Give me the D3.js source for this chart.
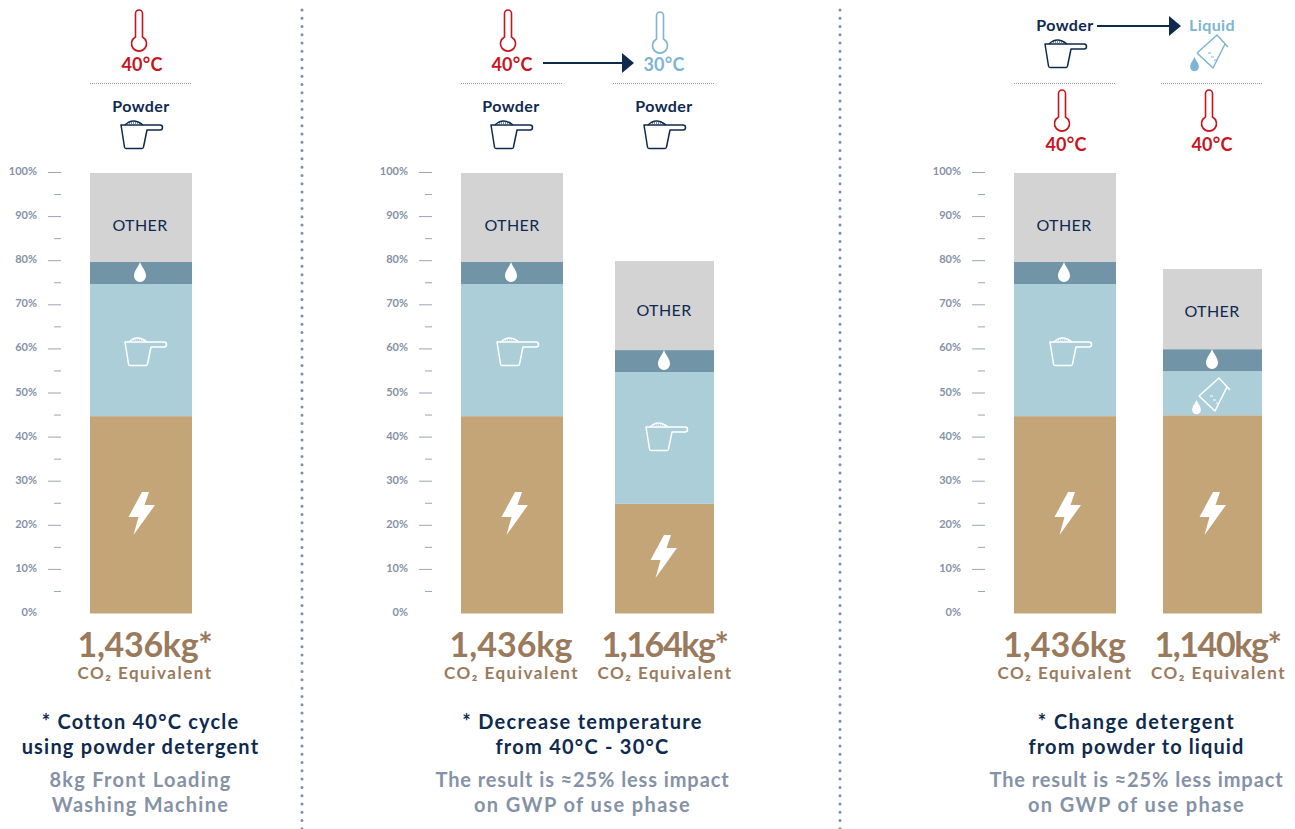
<!DOCTYPE html>
<html>
<head>
<meta charset="utf-8">
<script src="https://cdn.jsdelivr.net/npm/d3@7"></script>
<style>
  html, body { margin: 0; padding: 0; background: #fff; }
  svg { display: block; }
  text { font-family: Lato, sans-serif; }
</style>
</head>
<body>
<div id="chart-area"></div>
<script>
// Data (% of the 1,436kg baseline)
var segments = ["energy", "detergent", "water", "other"];
var barNames = ["p1", "p2a", "p2b", "p3a", "p3b"];
var energy    = [44.8, 44.8, 24.9, 44.8, 45];
var detergent = [30, 30, 29.9, 30, 10];
var water     = [5, 5, 5, 5, 5];
var other     = [20.2, 20.2, 20.2, 20.2, 18.2];
var totals = ["1,436kg*", "1,436kg", "1,164kg*", "1,436kg", "1,140kg*"];
var axisTicks = [0, 5, 10, 15, 20, 25, 30, 35, 40, 45, 50, 55, 60, 65, 70, 75, 80, 85, 90, 95, 100];

var colors = { energy: "#c4a577", detergent: "#abced9", water: "#7195a7", other: "#d3d3d3" };
var navy = "#0f2a4f", grey = "#8592a6", red = "#c8141e", blue = "#7db5d3", brown = "#9a7a5c";

var width = 1295, height = 829;

var svg = d3.select("#chart-area").append("svg")
  .attr("width", width)
  .attr("height", height);

// Y scales - the axis sits a little higher than the bars in the original
var y = d3.scaleLinear().domain([0, 100]).range([613.5, 173]);
var yAxisScale = d3.scaleLinear().domain([0, 100]).range([613, 172]);

// bar layout
var barX = { p1: 90, p2a: 461, p2b: 615, p3a: 1014, p3b: 1163 };
var barW = { p1: 102, p2a: 102, p2b: 99, p3a: 102, p3b: 99 };

var table = barNames.map(function(d, i) {
  return { bar: d, energy: energy[i], detergent: detergent[i], water: water[i], other: other[i] };
});
var stacked = d3.stack().keys(segments)(table);

svg.selectAll("g.layer")
  .data(stacked)
  .enter().append("g")
    .attr("class", "layer")
    .attr("fill", function(d) { return colors[d.key]; })
  .selectAll("rect")
  .data(function(d) { return d; })
  .enter().append("rect")
    .attr("x", function(d) { return barX[d.data.bar]; })
    .attr("width", function(d) { return barW[d.data.bar]; })
    .attr("y", function(d) { return y(d[1]); })
    .attr("height", function(d) { return y(d[0]) - y(d[1]); });

// Axes
[61, 432, 985].forEach(function(x) {
  var axisCall = d3.axisLeft(yAxisScale)
    .tickValues(axisTicks)
    .tickSize(0)
    .tickPadding(0)
    .tickFormat(function(d) { return d % 10 === 0 ? d + "%" : ""; });
  var g = svg.append("g")
    .attr("transform", "translate(" + x + ",0)")
    .call(axisCall);
  g.select(".domain").remove();
  g.selectAll(".tick line")
    .attr("x1", function(d) { return d === 0 ? 0 : (d % 10 === 0 ? -13 : -7); })
    .attr("x2", 0)
    .attr("stroke", "#9aa5b5")
    .attr("stroke-width", 1);
  g.selectAll(".tick text")
    .attr("x", -24)
    .attr("y", -1)
    .attr("fill", grey)
    .attr("font-size", "11px")
    .attr("font-weight", 700)
    .attr("font-family", "Lato, sans-serif");
});

// Icons, centred on 0,0
function thermometer(x, y0, color) {
  var g = svg.append("g").attr("transform", "translate(" + x + "," + y0 + ")");
  g.append("path")
    .attr("d", "M-3.5,27 V3.5 A3.5,3.5 0 0 1 3.5,3.5 V27 A7.5,7.5 0 1 1 -3.5,27 Z")
    .attr("fill", "none")
    .attr("stroke", color)
    .attr("stroke-width", 1.6);
}

function scoop(x, y0, color) {
  var g = svg.append("g").attr("transform", "translate(" + x + "," + y0 + ")")
    .attr("fill", "none").attr("stroke", color).attr("stroke-width", 1.5)
    .attr("stroke-linejoin", "round");
  g.append("path").attr("d", "M-20,-9 H19 A2.5,2.5 0 0 1 19,-4 H6 L2.5,13 Q2.3,14.5 1,14.5 H-15 Q-16.3,14.5 -16.5,13 L-20,-9 Z");
  g.append("path").attr("d", "M-16,-9 Q-8,-17 2,-9");
  g.append("path").attr("d", "M-12,-11 H-1").attr("stroke-dasharray", "1 1").attr("stroke-width", 1);
}

function drop(x, y0, color, s) {
  svg.append("path")
    .attr("transform", "translate(" + x + "," + y0 + ") scale(" + (s || 1) + ")")
    .attr("d", "M0,-10 C1.5,-5 6,-1.5 6,4 A6,6 0 0 1 -6,4 C-6,-1.5 -1.5,-5 0,-10 Z")
    .attr("fill", color);
}

function bolt(x, y0) {
  svg.append("path")
    .attr("transform", "translate(" + x + "," + y0 + ")")
    .attr("d", "M1,-21 L-12.5,4 H-2.5 L-7.5,22 L14,-8 H3.5 L8,-21 Z")
    .attr("fill", "#fff");
}

function beaker(x, y0, color) {
  var g = svg.append("g").attr("transform", "translate(" + x + "," + y0 + ")")
    .attr("fill", "none").attr("stroke", color).attr("stroke-width", 1.5)
    .attr("stroke-linejoin", "round");
  g.append("path").attr("d", "M-15,1 L5,-17 L16,-5 M13,-8 L1,16 L-15,1");
  g.append("path").attr("d", "M-4,1 h3 M-1,5 h3 M2,8 h3").attr("stroke-width", 1);
  drop(x - 17.5, y0 + 12, color, 0.72);
}

function label(x, yy, str, color, size, weight, spacing) {
  return svg.append("text")
    .attr("x", x)
    .attr("y", yy)
    .attr("text-anchor", "middle")
    .attr("fill", color)
    .attr("font-size", size + "px")
    .attr("font-weight", weight)
    .attr("letter-spacing", (spacing || 0) + "px")
    .text(str);
}

function dashRule(x1, x2) {
  svg.append("line")
    .attr("x1", x1).attr("x2", x2)
    .attr("y1", 83.5).attr("y2", 83.5)
    .attr("stroke", "#8f99a8")
    .attr("stroke-width", 1)
    .attr("stroke-dasharray", "1 1");
}

function arrow(x1, x2, yy) {
  svg.append("line")
    .attr("x1", x1).attr("x2", x2 - 10)
    .attr("y1", yy).attr("y2", yy)
    .attr("stroke", navy)
    .attr("stroke-width", 2.2);
  svg.append("path")
    .attr("d", "M" + (x2 - 12) + "," + (yy - 10) + " L" + x2 + "," + yy + " L" + (x2 - 12) + "," + (yy + 10) + " Z")
    .attr("fill", navy);
}

// Dotted separators
[302, 840].forEach(function(x) {
  svg.append("line")
    .attr("x1", x).attr("x2", x)
    .attr("y1", 10).attr("y2", 829)
    .attr("stroke", "#7f8ea3")
    .attr("stroke-width", 3)
    .attr("stroke-linecap", "round")
    .attr("stroke-dasharray", "0 8.27");
});

// Header panel 1
thermometer(139, 10, red);
label(142, 70.5, "40°C", red, 18, 700, 0.2);
dashRule(90, 192);
label(141, 112, "Powder", navy, 16, 700, 0.4);
scoop(141, 134, navy);

// Header panel 2
thermometer(508, 10, red);
label(512, 70.5, "40°C", red, 18, 700, 0.2);
thermometer(660, 12, blue);
label(664, 70.5, "30°C", blue, 18, 700, 0.2);
arrow(543, 634, 63);
dashRule(461, 563);
dashRule(613, 714);
label(511, 112, "Powder", navy, 16, 700, 0.4);
label(664, 112, "Powder", navy, 16, 700, 0.4);
scoop(511, 134, navy);
scoop(664, 134, navy);

// Header panel 3
label(1065, 31, "Powder", navy, 16, 700, 0.4);
label(1212, 31, "Liquid", blue, 16, 700, 0.4);
arrow(1097, 1181, 26);
scoop(1065, 53, navy);
beaker(1212, 52, blue);
dashRule(1014, 1116);
dashRule(1161, 1263);
thermometer(1062, 90, red);
thermometer(1209, 90, red);
label(1066, 150.5, "40°C", red, 18, 700, 0.2);
label(1212, 150.5, "40°C", red, 18, 700, 0.2);

// Labels and icons inside the bars
[[140, 231], [512, 231], [1064, 231], [664, 316], [1212, 317]].forEach(function(d) {
  label(d[0], d[1], "OTHER", navy, 16, 400, 0.4);
});
[[140, 272], [511, 272], [1064, 272], [664, 360], [1212, 359]].forEach(function(d) {
  drop(d[0], d[1], "#fff");
});
[[145, 351], [517, 351], [1070, 351], [666, 436]].forEach(function(d) {
  scoop(d[0], d[1], "#fff");
});
[[141, 513], [514, 513], [1067, 513], [663, 556], [1212, 513]].forEach(function(d) {
  bolt(d[0], d[1]);
});
beaker(1214, 395, "#fff");

// Totals under the bars
var totalX = [145, 511, 664.5, 1064.5, 1217.5];
var totalSpacing = [-0.3, 0, -1.4, 0, -1.4];
var co2X = [145, 511.5, 665, 1065, 1218.5];
totals.forEach(function(d, i) {
  label(totalX[i], 657, d, brown, 34, 700, totalSpacing[i]);
  label(co2X[i], 679, "CO₂ Equivalent", brown, 17, 700, 1.5);
});

// Captions
var captionX = [140.5, 582.5, 1136.5];
var captionTop = [["* Cotton 40°C cycle", "using powder detergent"],
                  ["* Decrease temperature", "from 40°C - 30°C"],
                  ["* Change detergent", "from powder to liquid"]];
var captionSub = [["8kg Front Loading", "Washing Machine"],
                  ["The result is ≈25% less impact", "on GWP of use phase"],
                  ["The result is ≈25% less impact", "on GWP of use phase"]];
var topSpacing = [[1.2, 1.2], [1.3, 1.25], [1.4, 1.1]];
var subSpacing = [[1.3, 1.25], [0.9, 1.4], [0.9, 1.4]];
captionX.forEach(function(x, i) {
  label(x, 729, captionTop[i][0], navy, 20, 700, topSpacing[i][0]);
  label(x, 754, captionTop[i][1], navy, 20, 700, topSpacing[i][1]);
  label(x, 787, captionSub[i][0], grey, 20, 700, subSpacing[i][0]);
  label(x, 812, captionSub[i][1], grey, 20, 700, subSpacing[i][1]);
});
</script>
</body>
</html>
